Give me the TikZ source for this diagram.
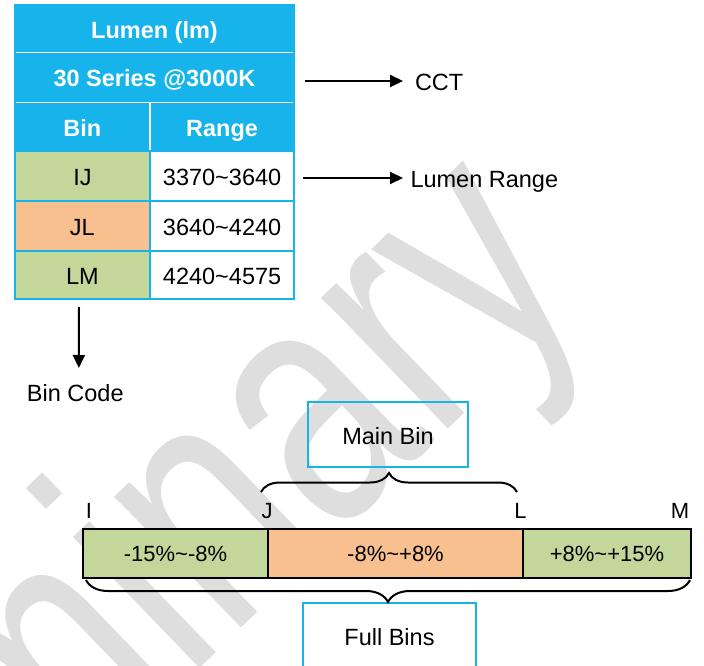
\documentclass[tikz,border=0pt]{standalone}
\usepackage{fontspec}
\setmainfont{Liberation Sans}
\usetikzlibrary{arrows.meta,decorations.pathreplacing}
\definecolor{cyanc}{HTML}{16B4EA}
\definecolor{greenc}{HTML}{C4D79B}
\definecolor{orangec}{HTML}{F9C08F}
\definecolor{wmark}{HTML}{DEDEDE}
\begin{document}
\begin{tikzpicture}[x=1pt,y=-1pt,
  every node/.style={inner sep=0pt, outer sep=0pt},
  lab/.style={font=\fontsize{23.5pt}{28pt}\selectfont, text height=19pt, text depth=0pt},
  small/.style={font=\fontsize{22pt}{26pt}\selectfont, text height=15.6pt, text depth=0pt},
  hd/.style={lab, font=\fontsize{23.5pt}{28pt}\selectfont\bfseries, text=white},
  hcell/.style={hd, fill=cyanc, draw=white, line width=1.4pt},
  bcell/.style={lab, draw=cyanc, line width=2pt},
  seg/.style={small, draw=black, line width=2.5pt},
  tagbox/.style={lab, draw=cyanc, line width=2pt},
  arr/.style={line width=2pt, -{Triangle[length=13pt,width=12pt]}},
  brc/.style={decorate, line width=2pt, decoration={brace, amplitude=#1}}]
\useasboundingbox (0,0) rectangle (704,666);
\clip (0,0) rectangle (704,666);
% watermark
\begin{scope}[shift={(-340,1190)}]
\node[rotate=44, xscale=0.75, anchor=base west, text=wmark, font=\fontsize{345pt}{345pt}\selectfont] (wm) at (0,0) {Preliminary};
\end{scope}
% table header
\node[hcell, minimum width=279.4pt, minimum height=47.8pt] (h1) at (154.5,28.6) {Lumen (lm)};
\node[hcell, minimum width=279.4pt, minimum height=50pt] (h2) at (154.5,77.5) {30 Series @3000K};
\node[hcell, minimum width=135.2pt, minimum height=49pt] (h3a) at (82.4,127) {Bin};
\node[hcell, minimum width=144.2pt, minimum height=49pt] (h3b) at (222.1,127) {Range};
% table body
\node[bcell, fill=greenc, minimum width=135.2pt, minimum height=49pt] (b1a) at (82.4,176) {IJ};
\node[bcell, fill=white, minimum width=144.2pt, minimum height=49pt] (b1b) at (222.1,176) {3370\textasciitilde3640};
\node[bcell, fill=orangec, minimum width=135.2pt, minimum height=50pt] (b2a) at (82.4,225.5) {JL};
\node[bcell, fill=white, minimum width=144.2pt, minimum height=50pt] (b2b) at (222.1,225.5) {3640\textasciitilde4240};
\node[bcell, fill=greenc, minimum width=135.2pt, minimum height=48.7pt] (b3a) at (82.4,274.85) {LM};
\node[bcell, fill=white, minimum width=144.2pt, minimum height=48.7pt] (b3b) at (222.1,274.85) {4240\textasciitilde4575};
\draw[cyanc, line width=2pt] (h1.north west) rectangle (b3b.south east);
% side labels
\node[lab, anchor=west] (cct) at (415,81) {CCT};
\node[lab, anchor=west] (lr) at (410.5,178) {Lumen Range};
\node[lab, anchor=base west] (bc) at (27,401) {Bin Code};
\draw[arr] ([shift={(11,3.5)}]h2.east) -- ([xshift=-12pt]cct.west);
\draw[arr] ([shift={(9,2)}]b1b.east) -- ([xshift=-7.5pt]lr.west);
\draw[arr] ([shift={(-3.4,8)}]b3a.south) -- ([shift={(3.5,-14)}]bc.north);
% bar
\node[seg, fill=greenc, minimum width=185pt, minimum height=49pt] (s1) at (175.5,553.5) {-15\%\textasciitilde-8\%};
\node[seg, fill=orangec, minimum width=255pt, minimum height=49pt] (s2) at (395.5,553.5) {-8\%\textasciitilde+8\%};
\node[seg, fill=greenc, minimum width=168pt, minimum height=49pt] (s3) at (607,553.5) {+8\%\textasciitilde+15\%};
% letters
\node[small, anchor=base] (lI) at (89,518.3) {I};
\node[small, anchor=base] (lJ) at (267,518.3) {J};
\node[small, anchor=base] (lL) at (520.5,518.3) {L};
\node[small, anchor=base] (lM) at (680,518.3) {M};
% boxes
\node[tagbox, minimum width=160pt, minimum height=65pt] (mb) at (388,434.5) {Main Bin};
\node[tagbox, minimum width=173pt, minimum height=66pt] (fb) at (389.5,636) {Full Bins};
% braces
\coordinate (tb1) at (261,492);
\coordinate (tb2) at (517,492);
\coordinate (bb1) at (690,580);
\coordinate (bb2) at (86,580);
\draw[brc=19pt] (tb1) -- (tb2);
\draw[brc=22pt] (bb1) -- (bb2);
\end{tikzpicture}
\end{document}
